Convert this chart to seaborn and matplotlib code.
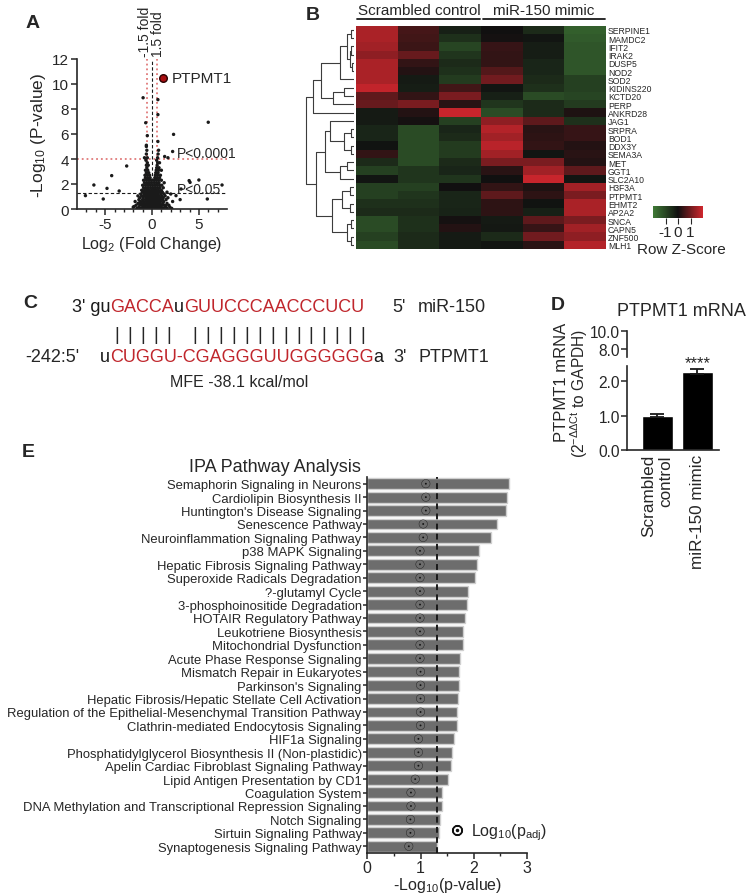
import numpy as np
import pandas as pd
import matplotlib
matplotlib.use("Agg")
import matplotlib.pyplot as plt
import seaborn as sns
from matplotlib.colors import LinearSegmentedColormap
from matplotlib.lines import Line2D

# ------------------------------------------------------------------ data
# Panel A : volcano plot (log2 fold change, -log10 p)
volcano_outlier_x = [-0.95, 0.63, 0.63, -0.67, 6.0, 2.3, -0.5, 0.63, -0.6, 2.2, 1.7, 1.35,
                     -2.7, -4.3, -6.2, -4.8, -3.5, -7.1, -5.2, 3.96, 5.9, 2.56, 3.1, 2.0,
                     1.5, -1.3, -1.9, 7.47, 5.0, 3.0, 4.06]
volcano_outlier_y = [8.9, 8.75, 7.55, 6.9, 6.94, 5.97, 5.87, 5.4, 5.1, 4.6, 4.1, 4.2,
                     3.44, 2.67, 1.92, 1.65, 1.44, 1.07, 0.8, 2.27, 0.8, 1.07, 1.6, 1.2,
                     0.27, 0.53, 0.2, 1.92, 2.32, 0.75, 2.13]
volcano_cloud = {
    0.05: [-1.6, -1.2, -0.9, -0.6, -0.3, 0.0, 0.3, 0.6, 0.9, 1.2, 1.6, 2.1],
    0.15: [-2.0, -1.4, -1.0, -0.7, -0.4, -0.15, 0.15, 0.4, 0.7, 1.0, 1.4, 1.9],
    0.30: [-1.7, -1.3, -1.0, -0.75, -0.5, -0.25, 0.0, 0.25, 0.5, 0.75, 1.0, 1.3, 1.8],
    0.45: [-1.5, -1.1, -0.8, -0.55, -0.3, -0.1, 0.1, 0.35, 0.6, 0.85, 1.15, 1.6],
    0.60: [-1.8, -1.2, -0.9, -0.6, -0.35, -0.1, 0.15, 0.4, 0.65, 0.9, 1.25, 2.2],
    0.75: [-1.4, -1.0, -0.7, -0.45, -0.2, 0.05, 0.3, 0.55, 0.8, 1.1, 1.5],
    0.90: [-1.3, -0.95, -0.65, -0.4, -0.15, 0.1, 0.35, 0.6, 0.9, 1.2, 1.7],
    1.05: [-1.5, -1.1, -0.8, -0.5, -0.25, 0.0, 0.25, 0.5, 0.75, 1.05, 1.4],
    1.20: [-1.2, -0.85, -0.6, -0.35, -0.1, 0.15, 0.4, 0.65, 0.95, 1.3],
    1.35: [-1.0, -0.7, -0.45, -0.2, 0.05, 0.3, 0.55, 0.8, 1.1, 1.6],
    1.50: [-1.1, -0.8, -0.55, -0.3, -0.05, 0.2, 0.45, 0.7, 1.0],
    1.70: [-0.9, -0.65, -0.4, -0.15, 0.1, 0.35, 0.6, 0.85, 1.2],
    1.90: [-1.0, -0.7, -0.45, -0.2, 0.05, 0.3, 0.55, 0.8, 1.05],
    2.10: [-0.8, -0.55, -0.3, -0.05, 0.25, 0.5, 0.75, 1.3],
    2.30: [-0.9, -0.6, -0.35, -0.1, 0.2, 0.45, 0.7, 1.0],
    2.50: [-0.7, -0.45, -0.2, 0.3, 0.55, 0.8],
    2.70: [-0.75, -0.5, -0.25, 0.35, 0.6, 0.9],
    2.90: [-0.6, -0.35, 0.4, 0.65],
    3.10: [-0.7, -0.45, 0.45, 0.7, 1.0],
    3.30: [-0.55, 0.5, 0.75],
    3.50: [-0.6, -0.4, 0.55],
    3.70: [-0.5, 0.6, 0.8],
    3.90: [-0.65, 0.5],
    4.10: [-0.5, -0.8, 0.6],
    4.40: [-0.6, 0.65],
    4.70: [-0.55, 0.7],
    5.00: [-0.6],
}
ptpmt1_x = [1.22]
ptpmt1_y = [10.45]

# Panel B : heat map of row z-scores
genes = ["SERPINE1", "MAMDC2", "IFIT2", "IRAK2", "DUSP5", "NOD2", "SOD2", "KIDINS220",
         "KCTD20", "PERP", "ANKRD28", "JAG1", "SRPRA", "BOD1", "DDX3Y", "SEMA3A", "MET",
         "GGT1", "SLC2A10", "H3F3A", "PTPMT1", "EHMT2", "AP2A2", "SNCA", "CAPN5",
         "ZNF500", "MLH1"]
samples = ["Scr 1", "Scr 2", "Scr 3", "Mim 1", "Mim 2", "Mim 3"]
zscores = [
    [1.6, 0.55, -0.3, 0.0, -0.5, -1.5],
    [1.6, 0.5, -0.6, 0.05, -0.1, -1.4],
    [1.5, 0.45, -1.0, 0.4, -0.25, -1.3],
    [1.3, 0.9, -0.7, 0.35, -0.25, -1.3],
    [1.6, 0.35, -0.5, 0.35, -0.4, -1.3],
    [1.6, 0.2, -0.6, 0.7, -0.4, -1.3],
    [1.6, -0.2, -0.8, 1.0, -0.5, -0.9],
    [1.85, -0.25, 0.5, -0.1, -0.6, -0.9],
    [0.8, 0.35, 1.1, -0.3, -1.1, -1.0],
    [0.9, 1.1, 0.25, -0.7, -0.5, -0.8],
    [-0.2, 0.2, 1.9, -1.1, -0.5, 0.15],
    [-0.2, 0.05, -0.9, 1.3, 0.8, -0.6],
    [-0.4, -1.1, -0.4, 1.7, 0.25, 0.4],
    [-0.4, -1.1, -0.5, 1.5, 0.3, 0.4],
    [-0.05, -1.1, -0.8, 1.75, 0.35, 0.2],
    [0.35, -1.1, -0.8, 1.5, -0.1, 0.25],
    [-0.5, -1.1, -0.5, 1.1, 1.1, 0.2],
    [-0.9, -0.7, -0.4, 0.25, 1.5, 0.8],
    [-0.1, -0.7, -0.7, 0.0, 1.9, -0.1],
    [-0.9, -0.9, 0.0, 0.35, 0.15, 1.5],
    [-0.9, -0.7, -0.4, 0.8, 0.3, 1.1],
    [-0.6, -0.6, -0.4, 0.3, -0.05, 1.6],
    [-0.5, -0.5, -0.35, 0.3, -0.3, 1.6],
    [-1.1, -0.6, 0.05, -0.2, 0.8, 1.1],
    [-1.1, -0.6, 0.2, -0.15, 0.4, 1.5],
    [-0.9, -0.5, -0.2, -0.5, 1.0, 1.3],
    [-1.1, -0.5, -0.2, -0.1, 0.25, 1.7],
]
# row dendrogram: [merge height, left, right]; leaves are row indices
row_tree = [140,
            [120,
             [95,
              [40, [20, [8, 0, 1], [12, [8, 2, 3], [5, 4, 5]]], 6],
              [60, [30, 7, 8], 9]],
             10],
            [110,
             [85,
              [70, 11, [30, [8, 12, 13], [10, 14, 15]]],
              [40, [20, 16, 17], 18]],
             [65,
              [35, [12, 19, 20], [12, 21, 22]],
              [20, [8, 23, 24], [10, 25, 26]]]]]

# Panel C : duplex
mir_prefix = "3' gu"
mir_seq = "GACCAuGUUCCCAACCCUCU"
target_seq = "uCUGGU-CGAGGGUUGGGGGGa"

# Panel D
d_groups = ["Scrambled\ncontrol", "miR-150 mimic"]
d_means = [1.0, 2.28]
d_sem = [0.04, 0.07]

# Panel E
pathways = ["Semaphorin Signaling in Neurons", "Cardiolipin Biosynthesis II",
            "Huntington's Disease Signaling", "Senescence Pathway",
            "Neuroinflammation Signaling Pathway", "p38 MAPK Signaling",
            "Hepatic Fibrosis Signaling Pathway", "Superoxide Radicals Degradation",
            "?-glutamyl Cycle", "3-phosphoinositide Degradation",
            "HOTAIR Regulatory Pathway", "Leukotriene Biosynthesis",
            "Mitochondrial Dysfunction", "Acute Phase Response Signaling",
            "Mismatch Repair in Eukaryotes", "Parkinson's Signaling",
            "Hepatic Fibrosis/Hepatic Stellate Cell Activation",
            "Regulation of the Epithelial-Mesenchymal Transition Pathway",
            "Clathrin-mediated Endocytosis Signaling", "HIF1a Signaling",
            "Phosphatidylglycerol Biosynthesis II (Non-plastidic)",
            "Apelin Cardiac Fibroblast Signaling Pathway",
            "Lipid Antigen Presentation by CD1", "Coagulation System",
            "DNA Methylation and Transcriptional Repression Signaling",
            "Notch Signaling", "Sirtuin Signaling Pathway",
            "Synaptogenesis Signaling Pathway"]
neglog_p = [2.66, 2.63, 2.60, 2.43, 2.33, 2.09, 2.07, 2.03, 1.90, 1.87, 1.84, 1.79,
            1.79, 1.75, 1.72, 1.72, 1.70, 1.68, 1.68, 1.63, 1.59, 1.58, 1.51, 1.40,
            1.40, 1.37, 1.35, 1.30]
log_padj = [1.10, 1.10, 1.10, 1.05, 1.05, 0.99, 0.99, 0.99, 0.99, 0.99, 0.99, 0.99,
            0.99, 0.99, 1.0, 1.0, 1.0, 1.0, 1.0, 0.96, 0.96, 0.96, 0.90, 0.82,
            0.82, 0.81, 0.81, 0.78]

# ------------------------------------------------------------------ style
sns.set_theme(style="ticks")
plt.rcParams["font.family"] = ["Liberation Sans", "DejaVu Sans"]
plt.rcParams["mathtext.fontset"] = "custom"
plt.rcParams["mathtext.rm"] = "Liberation Sans"
plt.rcParams["mathtext.it"] = "Liberation Sans:italic"
plt.rcParams["mathtext.bf"] = "Liberation Sans:bold"
plt.rcParams["axes.linewidth"] = 1.2
plt.rcParams["xtick.major.width"] = 1.1
plt.rcParams["ytick.major.width"] = 1.1

W, H = 747, 895
fig = plt.figure(figsize=(W / 100, H / 100), dpi=100)
renderer = fig.canvas.get_renderer()


def rect(x0, y0, x1, y1):
    return [x0 / W, 1 - y1 / H, (x1 - x0) / W, (y1 - y0) / H]


def ftext(x, y, s, **kw):
    return fig.text(x / W, 1 - y / H, s, **kw)


def case_runs(seq, upper_color, lower_color):
    """Split a sequence into runs of paired (upper) / unpaired (lower) letters."""
    runs = []
    for ch in seq:
        col = lower_color if ch.islower() else upper_color
        if runs and runs[-1][1] == col:
            runs[-1][0] += ch
        else:
            runs.append([ch, col])
    return runs


def seq_text(x, y, runs, fs):
    cur = x
    for s, c in runs:
        t = ftext(cur, y, s, fontsize=fs, color=c, ha="left", va="center")
        cur += t.get_window_extent(renderer).width
    return cur


RED = "#c0262c"

# panel letters
for lab, (px, py) in {"A": (33, 23), "B": (313, 16), "C": (30, 304),
                      "D": (558, 306), "E": (28, 453)}.items():
    ftext(px, py, lab, fontsize=14, fontweight="bold", ha="center", va="center")

# ------------------------------------------------------------------ Panel A
axA = fig.add_axes(rect(77, 60, 227, 210))
vx = list(volcano_outlier_x)
vy = list(volcano_outlier_y)
for yy, xs in volcano_cloud.items():
    vx.extend(xs)
    vy.extend([yy] * len(xs))
sns.scatterplot(x=vx, y=vy, ax=axA, s=6, color="k", edgecolor="none", linewidth=0)
fold = np.log2(1.5)
for xv in (-fold, fold):
    axA.axvline(xv, color="#e07a7a", ls=":", lw=1.3, zorder=0)
axA.axhline(4, color="#e07a7a", ls=":", lw=1.3, zorder=0)
axA.axvline(0, color="k", ls=(0, (3, 2)), lw=0.8, zorder=0)
axA.axhline(-np.log10(0.05), color="k", ls=(0, (3, 2)), lw=0.8, zorder=0)
sns.scatterplot(x=ptpmt1_x, y=ptpmt1_y, ax=axA, s=30, color="#a80f12",
                edgecolor="#2a0000", linewidth=1.0, zorder=5)
axA.text(2.15, ptpmt1_y[0], "PTPMT1", fontsize=11, va="center")
axA.text(2.6, 4.5, "P<0.0001", fontsize=10, va="center")
axA.text(2.6, 1.6, "P<0.05", fontsize=10, va="center")
axA.text(-fold - 0.15, 12.25, "-1.5 fold", rotation=90, ha="center", va="bottom",
         fontsize=10)
axA.text(fold + 0.1, 12.25, "1.5 fold", rotation=90, ha="center", va="bottom",
         fontsize=10)
axA.set_xlim(-8, 8)
axA.set_ylim(0, 12)
axA.set_yticks(range(0, 13, 2))
axA.set_xticks([-5, 0, 5])
axA.set_xticklabels(["-5", "0", "5"])
axA.set_xticks(range(-7, 8), minor=True)
axA.tick_params(axis="both", labelsize=11, length=4, pad=2)
axA.tick_params(axis="x", which="minor", length=2)
axA.set_xlabel("Log$_2$ (Fold Change)", fontsize=11.5, labelpad=2)
axA.set_ylabel("-Log$_{10}$ (P-value)", fontsize=12.5, labelpad=3)
sns.despine(ax=axA)

# ------------------------------------------------------------------ Panel B
df = pd.DataFrame(zscores, index=genes, columns=samples)
cmap = LinearSegmentedColormap.from_list("gkr", ["#3f7a36", "#101010", "#d0262d"])
axH = fig.add_axes(rect(356, 26.7, 606, 250))
cax = fig.add_axes(rect(653, 207, 703, 219))
sns.heatmap(df, ax=axH, cmap=cmap, vmin=-2, vmax=2, xticklabels=False,
            yticklabels=genes, cbar_ax=cax,
            cbar_kws={"orientation": "horizontal", "ticks": [-1, 0, 1]})
axH.yaxis.tick_right()
axH.tick_params(axis="y", length=0, pad=1.5, labelsize=6.2, labelrotation=0)
axH.set_ylabel("")
cax.tick_params(labelsize=11, length=4, width=0.8, pad=1)
cax.set_xticklabels(["-1", "0", "1"])
for s in cax.spines.values():
    s.set_visible(False)
cb = axH.collections[0].colorbar
if cb is not None:
    cb.outline.set_visible(False)
ftext(681, 250, "Row Z-Score", fontsize=11, ha="center", va="center")

ftext(419, 11, "Scrambled control", fontsize=11, ha="center", va="center")
ftext(544, 11, "miR-150 mimic", fontsize=11, ha="center", va="center")
fig.add_artist(Line2D([357 / W, 480 / W], [1 - 20 / H, 1 - 20 / H], color="k", lw=1.3))
fig.add_artist(Line2D([483 / W, 605 / W], [1 - 20 / H, 1 - 20 / H], color="k", lw=1.3))

axD = fig.add_axes(rect(305, 26.7, 354, 250))


def draw_tree(node, ax):
    if isinstance(node, int):
        return node + 0.5, 0.0
    h, left, right = node
    yl, hl = draw_tree(left, ax)
    yr, hr = draw_tree(right, ax)
    ax.plot([hl, h, h, hr], [yl, yl, yr, yr], color="#3c3c3c", lw=0.8)
    return (yl + yr) / 2, h


draw_tree(row_tree, axD)
axD.set_ylim(len(genes), 0)
axD.set_xlim(142, 0)
axD.axis("off")

# ------------------------------------------------------------------ Panel C
FS_C = 13
y_top, y_bar, y_bot = 307, 336, 358
seq_text(72, y_top, [[mir_prefix, "k"]] + case_runs(mir_seq, RED, "k"), FS_C)
seq_text(100, y_bot, case_runs(target_seq, RED, "k"), FS_C)
pair_cols = [i for i, ch in enumerate(mir_seq)
             if ch.isupper() and target_seq[i + 1].isupper()]
for i in pair_cols:
    ftext(117 + 12.95 * i, y_bar, "|", fontsize=FS_C, ha="center", va="center")
ftext(399, y_top, "5'", fontsize=FS_C, ha="center", va="center")
ftext(418, y_top, "miR-150", fontsize=FS_C, ha="left", va="center")
ftext(25, y_bot, "-242:5'", fontsize=FS_C, ha="left", va="center")
ftext(400, y_bot, "3'", fontsize=FS_C, ha="center", va="center")
ftext(418, y_bot, "PTPMT1", fontsize=FS_C, ha="left", va="center")
ftext(239, 383, "MFE -38.1 kcal/mol", fontsize=11.5, ha="center", va="center")

# ------------------------------------------------------------------ Panel D
axB = fig.add_axes(rect(626.7, 366.7, 719, 451))
axT = fig.add_axes(rect(626.7, 331.7, 719, 358))
sns.barplot(x=d_groups, y=d_means, ax=axB, color="black", width=0.79,
            saturation=1, errorbar=None)
axB.errorbar(x=range(len(d_means)), y=d_means, yerr=d_sem, fmt="none",
             ecolor="k", capsize=5, elinewidth=1.3, capthick=1.3)
axB.set_xlim(-0.77, 1.54)
axB.set_ylim(0, 2.45)
axB.set_yticks([0, 1, 2])
axB.set_yticklabels(["0.0", "1.0", "2.0"])
axB.tick_params(axis="y", labelsize=11.2, length=4, pad=1)
axB.tick_params(axis="x", labelsize=12.3, length=0, pad=3)
for lbl in axB.get_xticklabels():
    lbl.set_rotation(90)
    lbl.set_va("top")
    lbl.set_ha("center")
    lbl.set_multialignment("right")
axB.text(1, 2.55, "****", ha="center", va="center", fontsize=12, clip_on=False)
sns.despine(ax=axB)
axT.set_xlim(-0.77, 1.54)
axT.set_ylim(7.2, 10)
axT.set_yticks([8, 10])
axT.set_yticklabels(["8.0", "10.0"])
axT.set_xticks([])
axT.tick_params(axis="y", labelsize=11.2, length=4, pad=1)
sns.despine(ax=axT, bottom=True)
axT.patch.set_alpha(0)
ftext(681, 311, "PTPMT1 mRNA", fontsize=13, ha="center", va="center")
ftext(562, 382, "PTPMT1 mRNA", fontsize=12, ha="center", va="center", rotation=90)
ftext(579, 393, r"(2$^{-\Delta\Delta\mathrm{Ct}}$ to GAPDH)", fontsize=11.2,
      ha="center", va="center", rotation=90)

# ------------------------------------------------------------------ Panel E
axE = fig.add_axes(rect(367.3, 478, 527, 854))
sns.barplot(x=neglog_p, y=pathways, ax=axE, orient="h", color="#6d6d6d",
            saturation=1, width=0.8, edgecolor="#cfcfcf", linewidth=1.0)
sns.scatterplot(x=log_padj, y=pathways, ax=axE, marker=r"$\odot$", s=40,
                color="#111111", edgecolor="none", zorder=4)
axE.axvline(-np.log10(0.05), color="k", ls=(0, (3, 2.2)), lw=1.4, zorder=5)
axE.set_xlim(0, 3)
axE.set_ylim(len(pathways) - 0.5, -0.5)
axE.set_xticks([0, 1, 2, 3])
axE.set_xticks(np.arange(0, 3.01, 0.5), minor=True)
axE.tick_params(axis="x", labelsize=11.5, length=4, pad=1)
axE.tick_params(axis="x", which="minor", length=2.5)
axE.tick_params(axis="y", labelsize=9.4, length=3, pad=1)
axE.set_xlabel("-Log$_{10}$(p-value)", fontsize=11.5, labelpad=0)
axE.set_ylabel("")
sns.despine(ax=axE)
handle = Line2D([], [], marker=r"$\odot$", color="#111111", ls="none", markersize=7)
axE.legend([handle], [r"Log$_{10}$(p$_{\mathrm{adj}}$)"], loc="center left",
           bbox_to_anchor=(449 / W, 1 - 833 / H), bbox_transform=fig.transFigure,
           frameon=False, fontsize=11.5, handlelength=1.0, handletextpad=0.4,
           borderpad=0, borderaxespad=0)
ftext(275, 468, "IPA Pathway Analysis", fontsize=13, ha="center", va="center")

fig.savefig("out.png", dpi=100)
